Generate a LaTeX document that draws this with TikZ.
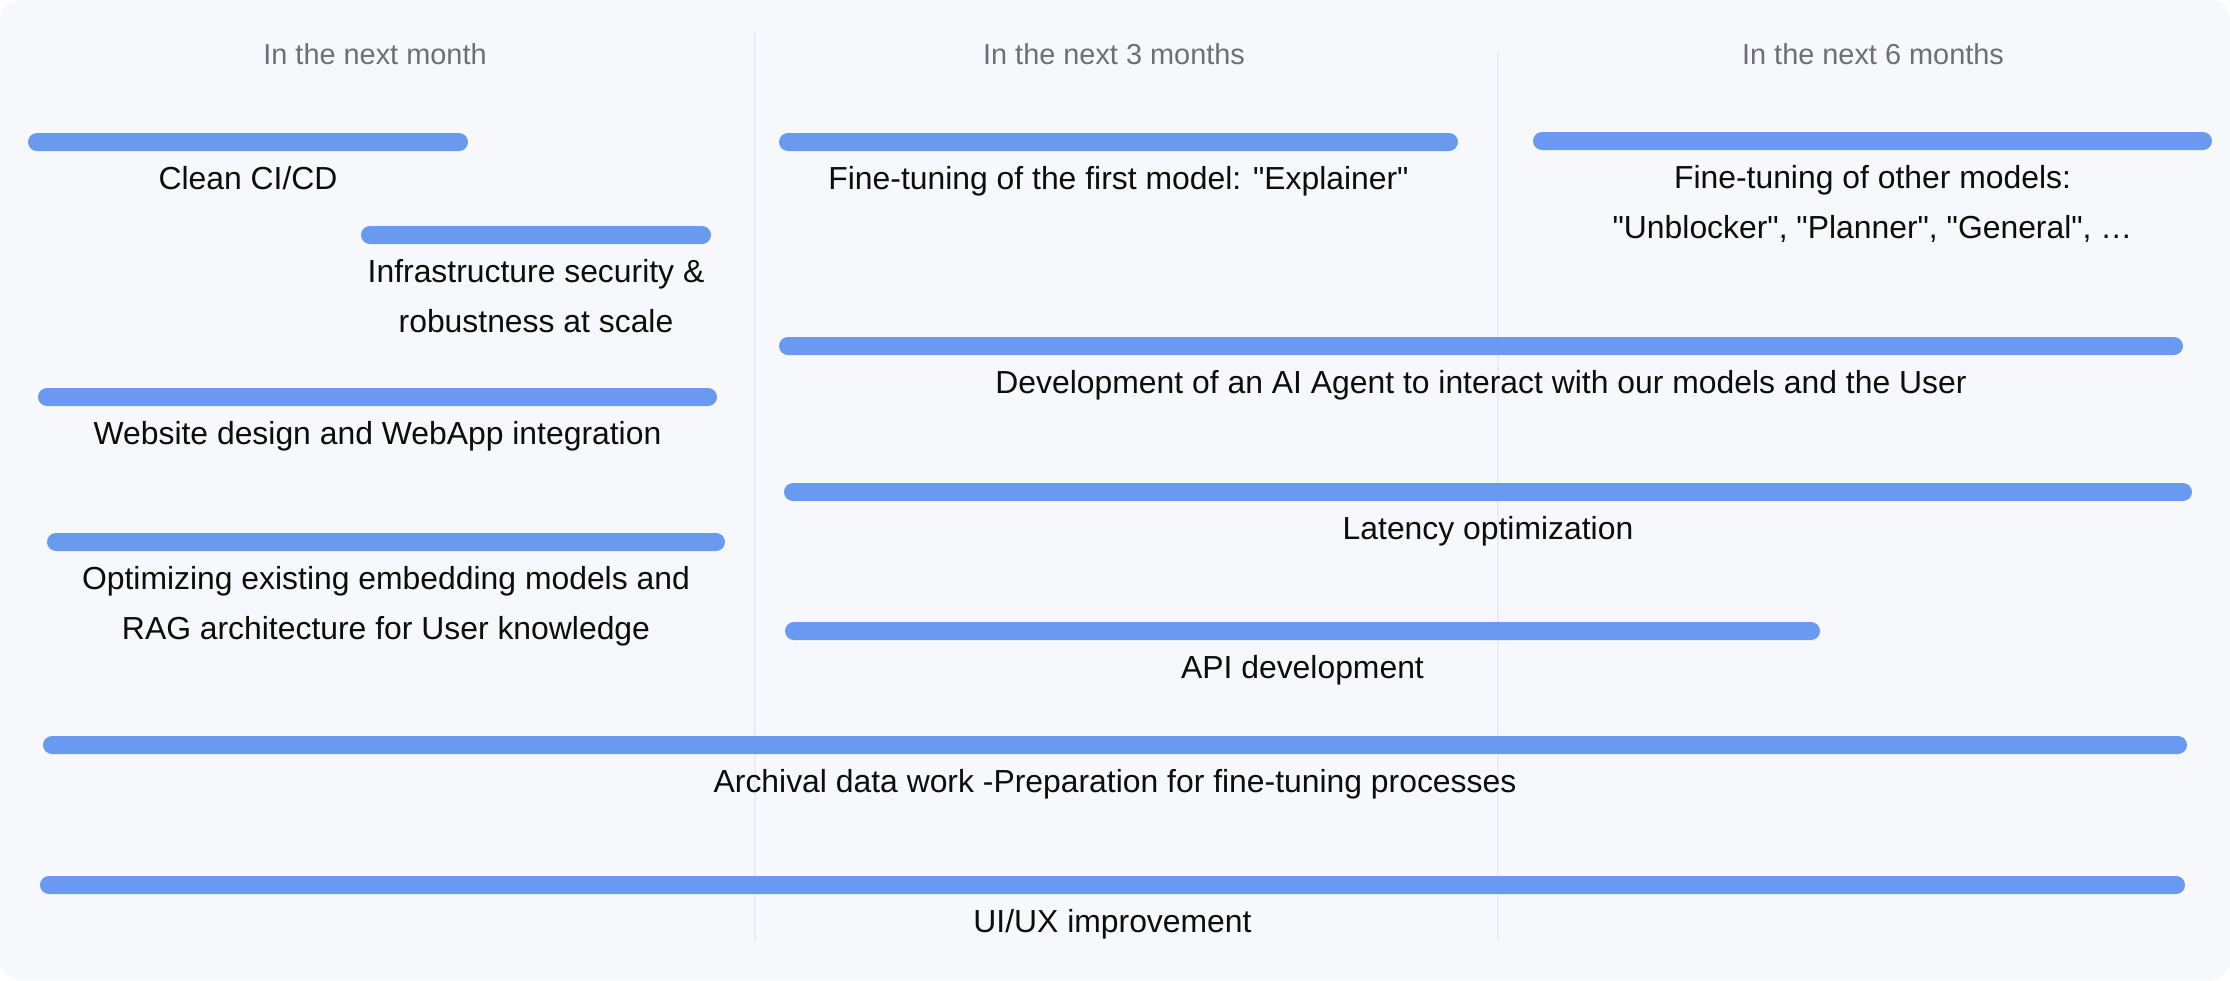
\documentclass[tikz,border=0pt]{standalone}
\usepackage{fontspec}
\setmainfont{Liberation Sans}
\usepackage{xcolor}
\definecolor{Canvas}{HTML}{F7F8FC}
\definecolor{BarBlue}{HTML}{6A9AF0}
\definecolor{Divider}{HTML}{E9ECF5}
\definecolor{HeadGray}{HTML}{6D6F76}
\definecolor{Ink}{HTML}{0D0D0D}
\usetikzlibrary{positioning}

\begin{document}
\begin{tikzpicture}[
  x=1bp,y=-1bp,
  bar/.style={fill=BarBlue,rounded corners=9bp,minimum height=18bp,inner sep=0pt},
  task/.style={anchor=north,align=center,inner sep=0pt,text=Ink,font=\fontsize{32}{50.5}\selectfont},
  period/.style={anchor=base,inner sep=0pt,text=HeadGray,font=\fontsize{29}{34}\selectfont},
  divider/.style={draw=Divider,line width=2bp}
]
\useasboundingbox (0,0) rectangle (2230,980);
\fill[Canvas,rounded corners=20bp] (0,0) rectangle (2230,980);

% time columns
\draw[divider] (755,31) -- (755,941);
\draw[divider] (1498,51) -- (1498,941);
\node[period] (month1) at (375,64) {In the next month};
\node[period] (month3) at (1114,64) {In the next 3 months};
\node[period] (month6) at (1873,64) {In the next 6 months};

% first month
\node[bar,minimum width=440bp] (cicd) at (248,142) {};
\node[task,below=15bp of cicd] (cicdT) {Clean CI/CD};
\node[bar,minimum width=350bp] (infra) at (536,235) {};
\node[task,below=15bp of infra] (infraT) {Infrastructure security \&\\robustness at scale};
\node[bar,minimum width=679bp] (web) at (377.5,397) {};
\node[task,below=15bp of web] (webT) {Website design and WebApp integration};
\node[bar,minimum width=678bp] (rag) at (386,542) {};
\node[task,below=15bp of rag] (ragT) {Optimizing existing embedding models and\\RAG architecture for User knowledge};

% three and six months
\node[bar,minimum width=679bp] (explainer) at (1118.5,142) {};
\node[task,below=15bp of explainer] (explainerT) {Fine-tuning of the first model: \textquotedbl Explainer\textquotedbl};
\node[bar,minimum width=679bp] (others) at (1872.5,141) {};
\node[task,below=15bp of others] (othersT) {Fine-tuning of other models:\\\textquotedbl Unblocker\textquotedbl, \textquotedbl Planner\textquotedbl, \textquotedbl General\textquotedbl, \ldots};
\node[bar,minimum width=1404bp] (agent) at (1481,346) {};
\node[task,below=15bp of agent] (agentT) {Development of an AI Agent to interact with our models and the User};
\node[bar,minimum width=1408bp] (latency) at (1488,492) {};
\node[task,below=15bp of latency] (latencyT) {Latency optimization};
\node[bar,minimum width=1035bp] (api) at (1302.5,631) {};
\node[task,below=15bp of api] (apiT) {API development};

% whole period
\node[bar,minimum width=2144bp] (archive) at (1115,745) {};
\node[task,below=15bp of archive] (archiveT) {Archival data work -Preparation for fine-tuning processes};
\node[bar,minimum width=2145bp] (uiux) at (1112.5,885) {};
\node[task,below=15bp of uiux] (uiuxT) {UI/UX improvement};
\end{tikzpicture}
\end{document}
